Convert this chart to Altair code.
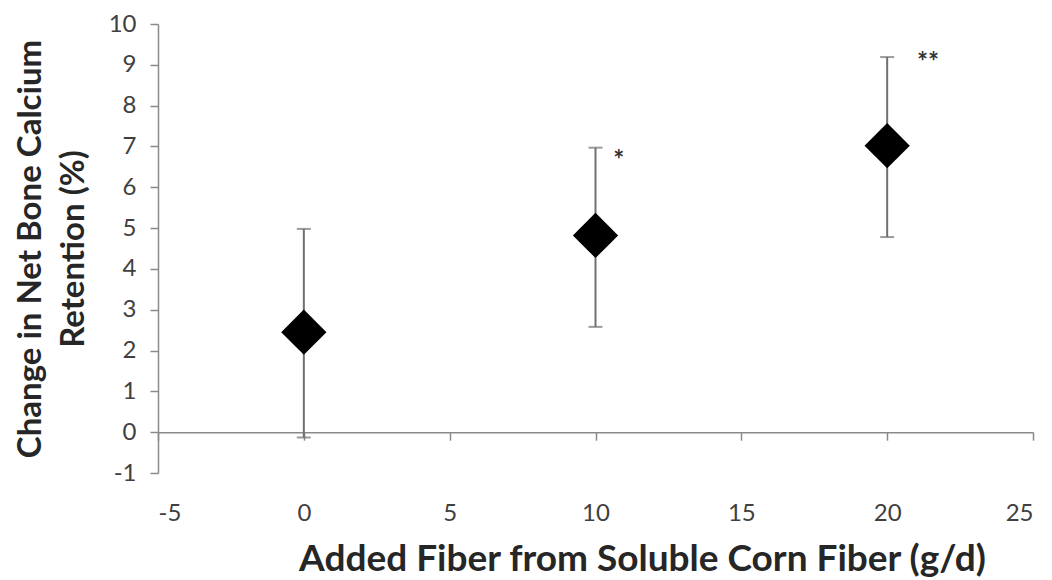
import altair as alt
import pandas as pd

fiber = [0, 10, 20]
retention = [2.45, 4.82, 7.02]
err_low = [-0.13, 2.58, 4.78]
err_high = [4.98, 6.97, 9.19]

sig_x = [10.8, 21.4]
sig_y = [6.8, 9.2]
sig_label = ["*", "**"]

x_ticks = [-5, 0, 5, 10, 15, 20, 25]
y_ticks = [-1, 0, 1, 2, 3, 4, 5, 6, 7, 8, 9, 10]

df = pd.DataFrame({"fiber": fiber, "ret": retention, "lo": err_low, "hi": err_high})
sig = pd.DataFrame({"x": sig_x, "y": sig_y, "label": sig_label})

W, H = 875, 449
axis_gray = "#8a8a8a"
font = "Lato"

xscale = alt.Scale(domain=[-5, 25], nice=False, zero=False)
yscale = alt.Scale(domain=[-1, 10], nice=False, zero=False)

xaxis = alt.Axis(
    values=x_ticks, grid=False, domainColor=axis_gray, tickColor=axis_gray,
    domainWidth=1.5, tickWidth=1.5, tickSize=8, offset=-H / 11,
    labelPadding=61, labelFont=font, labelFontSize=24, labelColor="#404040",
    labelExpr="'' + datum.value",
    title="Added Fiber from Soluble Corn Fiber (g/d)", titleFont=font,
    titleFontSize=37, titleFontWeight="bold", titleColor="#262626",
    titlePadding=16, titleX=484,
)
yaxis = alt.Axis(
    values=y_ticks, grid=False, domainColor=axis_gray, tickColor=axis_gray,
    domainWidth=1.5, tickWidth=1.5, tickSize=8, labelPadding=14,
    labelFont=font, labelFontSize=24, labelColor="#404040",
    labelExpr="'' + datum.value",
    title=["Change in Net Bone Calcium", "Retention (%)"], titleFont=font,
    titleFontSize=33, titleFontWeight="bold", titleColor="#262626",
    titlePadding=18, titleLineHeight=43,
)

base = alt.Chart(df)

rules = base.mark_rule(color="#707070", strokeWidth=2).encode(
    x=alt.X("fiber:Q", scale=xscale, axis=xaxis),
    y=alt.Y("lo:Q", scale=yscale, axis=yaxis),
    y2="hi:Q",
)
caps_lo = base.mark_tick(color="#707070", orient="horizontal", size=14, thickness=2).encode(
    x=alt.X("fiber:Q", scale=xscale), y=alt.Y("lo:Q", scale=yscale)
)
caps_hi = base.mark_tick(color="#707070", orient="horizontal", size=14, thickness=2).encode(
    x=alt.X("fiber:Q", scale=xscale), y=alt.Y("hi:Q", scale=yscale)
)
points = base.mark_point(shape="diamond", filled=True, color="black", size=2050, opacity=1).encode(
    x=alt.X("fiber:Q", scale=xscale), y=alt.Y("ret:Q", scale=yscale)
)
stars = alt.Chart(sig).mark_text(font=font, fontSize=26, fontWeight="bold", color="#333333", baseline="middle", dy=6).encode(
    x=alt.X("x:Q", scale=xscale), y=alt.Y("y:Q", scale=yscale), text="label:N"
)

chart = alt.layer(rules, caps_lo, caps_hi, points, stars).properties(
    width=W, height=H,
    padding={"left": 158, "top": 24, "right": 19, "bottom": 107},
    autosize="none", background="white",
).configure_view(stroke=None)

chart.save("out.html", embed_options={"renderer": "svg", "actions": False})
